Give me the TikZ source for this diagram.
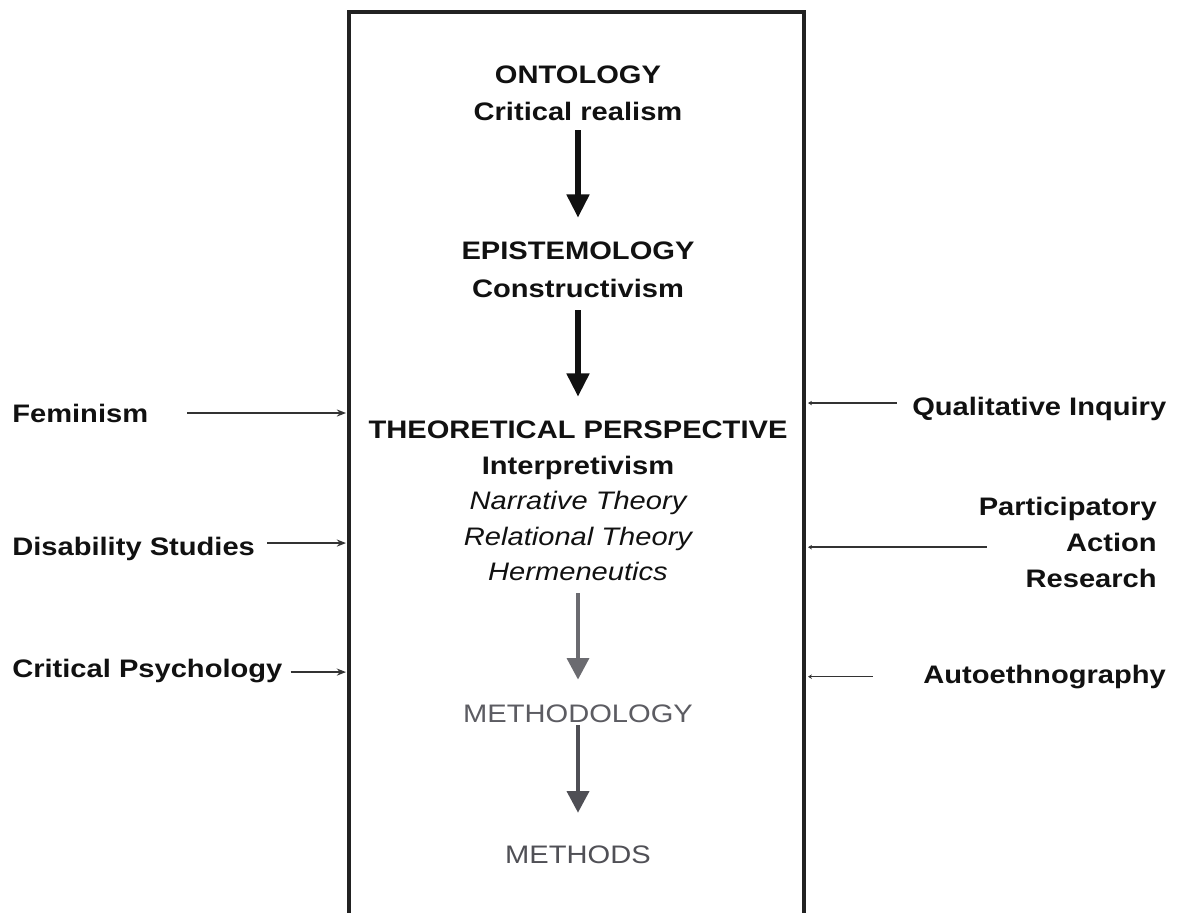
\documentclass[tikz,border=0pt]{standalone}
\usepackage{fontspec}
\setmainfont{Liberation Sans}
\usepackage{graphicx}
\usetikzlibrary{arrows.meta}

% widen the lettering a little
\newcommand{\stretchx}[1]{\scalebox{1.15}[1]{#1}}

\definecolor{ink}{HTML}{111111}
\definecolor{frameclr}{HTML}{222222}
\definecolor{thinclr}{HTML}{333333}
\definecolor{grayarrow}{HTML}{6B6B70}
\definecolor{darkarrow}{HTML}{4F4F55}
\definecolor{methclr}{HTML}{5C5C62}
\definecolor{methsclr}{HTML}{505056}

\tikzset{
  basefont/.style={inner sep=0pt, text=ink, font=\fontsize{18pt}{21pt}\selectfont\bfseries},
  lbl/.style={basefont, text height=13pt, text depth=4pt},
  core/.style={lbl, anchor=base},
  ital/.style={core, font=\fontsize{18pt}{21pt}\selectfont\itshape},
  plainlbl/.style={core, font=\fontsize{18pt}{21pt}\selectfont},
  side/.style={lbl, anchor=base west},
  bigarrow/.style={draw=ink, line width=4pt, -{Triangle[length=16.6pt, width=15.4pt]}, fill=ink},
  grayarrowst/.style={line width=3.2pt, -{Triangle[length=15.4pt, width=15.4pt]}},
  larrow/.style={draw=thinclr, line width=1.1pt, -{Stealth[length=6.5pt, width=5pt]}},
  rarrow/.style={draw=thinclr, line width=1.1pt, -{Stealth[length=2.8pt, width=3.2pt]}}
}

\begin{document}
\begin{tikzpicture}[x=0.025cm, y=-0.025cm]
\useasboundingbox (0,0) rectangle (1184,913);
\fill[white] (0,0) rectangle (1184,913);

% open-bottomed frame
\draw[line width=3pt, frameclr, line join=miter] (349,913) -- (349,12) -- (804,12) -- (804,913);
\coordinate (lft) at (346,0);
\coordinate (rgt) at (808,0);

% central column
\node[core] (ont) at (578,83) {\stretchx{ONTOLOGY}};
\node[core] (crit) at (578,120) {\stretchx{Critical realism}};
\node[core] (epi) at (578,259) {\stretchx{EPISTEMOLOGY}};
\node[core] (cons) at (578,297) {\stretchx{Constructivism}};
\node[core] (theo) at (578,438) {\stretchx{THEORETICAL PERSPECTIVE}};
\node[core] (interp) at (578,474) {\stretchx{Interpretivism}};
\node[ital] (narr) at (578,509) {\stretchx{Narrative Theory}};
\node[ital] (rel) at (578,545) {\stretchx{Relational Theory}};
\node[ital] (herm) at (578,580) {\stretchx{Hermeneutics}};
\node[plainlbl, text=methclr] (meth) at (578,722) {\stretchx{METHODOLOGY}};
\node[plainlbl, text=methsclr] (methods) at (578,863) {\stretchx{METHODS}};

% downward arrows
\draw[bigarrow, shorten <=3.1pt, shorten >=16.1pt] (crit) -- (epi);
\draw[bigarrow, shorten <=5.3pt, shorten >=16.1pt] (cons) -- (theo);
\draw[grayarrowst, draw=grayarrow, fill=grayarrow, shorten <=5.3pt, shorten >=16.9pt] (herm) -- (meth);
\draw[grayarrowst, draw=darkarrow, fill=darkarrow, shorten <=-1.8pt, shorten >=22.5pt] (meth) -- (methods);

% influences from the left
\node[side] (fem) at (12,422) {\stretchx{Feminism}};
\node[side] (dis) at (12,555) {\stretchx{Disability Studies}};
\node[side] (crpsy) at (12,677) {\stretchx{Critical Psychology}};

\draw[larrow] ([xshift=27.7pt, yshift=1.9pt]fem.east) coordinate (f0) -- (f0 -| lft);
\draw[larrow] ([xshift=8.5pt, yshift=4pt]dis.east) coordinate (d0) -- (d0 -| lft);
\draw[larrow] ([xshift=5.7pt, yshift=-1pt]crpsy.east) coordinate (c0) -- (c0 -| lft);

% influences from the right
\node[side] (qual) at (912,415) {\stretchx{Qualitative Inquiry}};
\node[basefont, align=right, anchor=east, font=\fontsize{18pt}{25.6pt}\selectfont\bfseries] (par) at (1157,542)
  {\stretchx{Participatory}\\\stretchx{Action}\\\stretchx{Research}};
\node[side] (auto) at (923,683) {\stretchx{Autoethnography}};

\draw[rarrow] ([xshift=-10.7pt, yshift=4pt]qual.west) coordinate (q0) -- (q0 -| rgt);
\draw[rarrow] ([xshift=5.7pt, yshift=-3.7pt]par.west) coordinate (p0) -- (p0 -| rgt);
\draw[rarrow] ([xshift=-35.6pt]auto.west) coordinate (a0) -- (a0 -| rgt);
\end{tikzpicture}
\end{document}
